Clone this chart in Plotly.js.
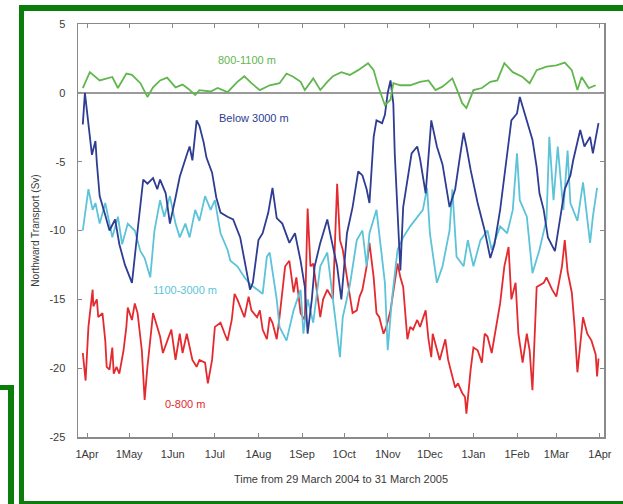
<!DOCTYPE html>
<html>
<head>
<meta charset="utf-8">
<script src="https://cdn.plot.ly/plotly-3.0.1.min.js"></script>
<style>
  html, body { margin: 0; padding: 0; background: #ffffff; }
  #wrap { position: relative; width: 623px; height: 504px; overflow: hidden; }
  #chart { position: absolute; left: 0; top: 0; width: 623px; height: 504px; }
  .frame { position: absolute; background: #0a7d0a; pointer-events: none; }
</style>
</head>
<body>
<div id="wrap">
  <div id="chart"></div>
  <div class="frame" style="left:19px; top:5px; width:610px; height:6px;"></div>
  <div class="frame" style="left:19px; top:5px; width:5px; height:499px;"></div>
  <div class="frame" style="left:19px; top:501px; width:610px; height:4px;"></div>
  <div class="frame" style="left:0px; top:385px; width:14px; height:5px;"></div>
  <div class="frame" style="left:8px; top:385px; width:6px; height:119px;"></div>
</div>
<script>
// Day offsets are counted from 29 March 2004
const startDate = '2004-03-29';

const monthTicks = ['2004-04-01','2004-05-01','2004-06-01','2004-07-01','2004-08-01','2004-09-01',
  '2004-10-01','2004-11-01','2004-12-01','2005-01-01','2005-02-01','2005-03-01','2005-04-01'];
const monthLabels = ['1Apr','1May','1Jun','1Jul','1Aug','1Sep','1Oct','1Nov','1Dec','1Jan','1Feb','1Mar','1Apr'];
const yTicks = [5, 0, -5, -10, -15, -20, -25];

// 800-1100 m
const greenDays = [0,5,12,21,25,31,35,41,46,50,55,60,66,71,75,80,83,91,96,103,110,115,120,126,133,140,145,150,155,158,164,169,174,178,184,190,196,203,207,210,215,219,221,226,233,240,246,251,256,263,267,270,273,278,284,290,295,300,306,313,318,323,330,337,343,348,352,355,360,365];
const greenVals = [0.35,1.5,0.9,1.15,0.35,1.4,1.3,0.7,-0.3,0.4,0.9,1.1,0.4,0.6,0.3,-0.15,0.2,0.1,0.35,0.05,0.8,1.2,0.7,0.2,0.55,0.7,1.4,1.15,0.8,0.2,1.05,0.2,0.8,1.2,1.5,1.3,1.65,2.15,1.65,0.55,-0.9,-0.5,0.7,0.55,0.55,0.8,0.9,0.2,0.45,1.05,0.05,-0.75,-1.1,0.2,0.35,0.8,0.9,2.15,1.5,1.15,0.7,1.65,1.9,2.0,2.2,1.65,0.2,1.15,0.35,0.55];

// Below 3000 m
const navyDays = [0,1.5,6.5,9,10,12,16,19,23,26,30,35,39,43,46,50,53,55,59,62,66,69,74,76,78,81,83,86,88,92,95,98,103,107,112,115,119,121,125,128,132,135,138,142,147,151,155,158,160,163,165,169,174,177,181,184,188,192,196,199,202,204,207,209,213,215,217,219,221,222,224,226,228,231,234,238,240,244,246,248,252,256,261,265,268,271,273,276,281,286,290,293,297,300,305,309,311,313,316,320,323,325,328,331,336,340,343,347,349,354,357,361,363,367];
const navyVals = [-2.3,0,-4.5,-3.5,-5.1,-7.5,-8.9,-10,-9.2,-11,-12.5,-13.8,-10,-6.3,-6.6,-6.2,-7,-6.3,-7.3,-9.5,-7.6,-6.1,-4.5,-3.9,-4.9,-2,-2.4,-3.6,-4.7,-5.8,-7.6,-8.7,-9,-9.2,-10.5,-12.2,-14.3,-13.8,-10.7,-10.2,-8.7,-6.9,-9.1,-9.5,-10.9,-10.2,-12.2,-14.1,-17.5,-15,-12.6,-10.9,-9.2,-10.7,-12.6,-15,-10.2,-8.3,-5.7,-6,-7,-8,-3.2,-2,-2.2,-1.6,0,0.9,-0.8,-4.4,-9.2,-12.9,-8.3,-6.3,-4.4,-3.9,-4.8,-7.3,-4.9,-2,-3.9,-5.2,-8.3,-7,-4.9,-2.9,-3.9,-5.6,-8,-10,-12,-11,-8.5,-6,-2,-1.5,-0.3,-1,-2,-3.4,-5.4,-7.3,-8.5,-10.5,-11.5,-9,-7,-6,-4.9,-2.7,-3.9,-3.2,-4.4,-2.2];

// 1100-3000 m
const cyanDays = [0,4,7,9,12,16,21,25,28,32,37,41,44,48,51,55,58,62,66,69,73,76,80,83,87,91,94,98,103,105,110,115,119,124,128,131,133,138,140,145,150,155,157,160,164,169,174,178,183,185,190,195,199,202,204,209,211,215,217,220,224,228,233,238,242,245,247,252,256,261,263,266,271,274,278,283,288,291,297,302,306,309,311,316,320,325,330,332,335,338,342,345,347,352,356,361,363,366];
const cyanVals = [-10,-7,-8.5,-8,-9.5,-8,-10.5,-9,-11,-9.5,-10,-11.5,-12,-13.4,-10,-7.8,-9,-7.5,-9.5,-10.5,-9.5,-10.5,-8.5,-9.3,-7.5,-8.5,-7.8,-10.2,-11.4,-12.2,-12.6,-13.4,-13.9,-14.3,-14.6,-11.9,-11.6,-15,-17,-18,-15.8,-14.3,-17.5,-15,-16.7,-12.6,-11.6,-15,-19.2,-16.3,-14,-10.7,-10,-12.6,-10.2,-8.5,-10.2,-13.8,-18.7,-15,-11.4,-10.5,-9.7,-9,-8.5,-6.9,-10.2,-13.8,-12.6,-10,-7,-11.9,-12.6,-10.7,-12.6,-10.7,-10,-11.4,-9.7,-10.2,-8.5,-4.4,-7.8,-9,-13.1,-11.4,-9.2,-3.2,-7.8,-3.9,-8.5,-4.2,-8,-9.3,-6.5,-10.9,-9,-6.9];

// 0-800 m
const redDays = [0,2,4,7,7.5,10,11,14,16,17,19,21,22,24,26,29,31,32,35,37,39,42,44,46,50,53,55,57,60,63,66,69,71,74,78,81,83,87,89,92,94,98,101,103,106,108,110,113,115,118,120,124,126,128,131,133,135,138,140,144,147,150,152,155,158,160,162,164,167,169,171,174,178,181,183,185,188,190,192,195,197,199,202,204,207,209,211,214,216,219,221,224,226,228,231,233,235,238,240,244,246,248,249,252,254,258,260,263,265,267,270,272,273,276,278,281,284,286,288,291,295,297,300,303,305,308,310,313,316,318,320,323,328,330,334,337,341,343,345,348,350,352,356,359,362,365,366,367];
const redVals = [-18.9,-20.9,-17,-14.3,-15.5,-15,-16.3,-16,-18,-19.9,-20.1,-18.5,-20.4,-19.9,-20.4,-18.7,-17,-15.6,-16.5,-15.3,-16,-18.7,-22.3,-19.9,-16,-17,-17.7,-18.9,-18,-17.2,-19.4,-17.5,-18.9,-17.5,-19.4,-19.9,-19.4,-19.6,-21.1,-19.4,-17,-16.7,-17.5,-18,-16.5,-14.6,-15,-15.8,-16.3,-14.8,-15.8,-16.3,-15.8,-17.2,-17.9,-16.3,-16.7,-17.9,-16.3,-12.6,-12.2,-14.5,-13.4,-16,-16.5,-8.4,-12.6,-12.4,-15,-16.3,-15,-14.3,-15,-6.6,-10.7,-11.4,-13.4,-14.8,-16,-15.8,-14.8,-14.3,-12.6,-10.9,-13.4,-16,-16.3,-17.5,-17,-15.8,-14.3,-12.4,-13.4,-14.1,-17.9,-17,-17.2,-16.5,-17,-15.8,-17.9,-19.2,-17.5,-18.7,-19.4,-17.9,-19.4,-20.6,-21.4,-21.1,-21.8,-22.1,-23.3,-20.1,-18.5,-18.7,-19.6,-17.5,-17.7,-18.9,-16.3,-15.3,-12.6,-11.2,-15,-13.8,-17.5,-19.6,-17.5,-18.7,-21.6,-14.1,-13.8,-13.4,-14.3,-14.8,-12.6,-10.7,-13,-14.5,-17,-20.3,-16.3,-17.5,-18,-19,-20.6,-19.3];

function toDates(days) {
  const base = new Date(startDate + 'T00:00:00Z').getTime();
  return days.map(d => {
    const t = new Date(base + d * 86400000);
    return t.toISOString().slice(0, 19).replace('T', ' ');
  });
}

const traces = [
  { x: toDates(redDays), y: redVals, name: '0-800 m', line: { color: '#e52a2f', width: 1.8 } },
  { x: toDates(cyanDays), y: cyanVals, name: '1100-3000 m', line: { color: '#5cc3d9', width: 1.8 } },
  { x: toDates(navyDays), y: navyVals, name: 'Below 3000 m', line: { color: '#2e3c92', width: 1.8 } },
  { x: toDates(greenDays), y: greenVals, name: '800-1100 m', line: { color: '#62b64e', width: 1.8 } }
].map(t => Object.assign({ type: 'scatter', mode: 'lines', hoverinfo: 'skip' }, t));

const fontFam = '"Liberation Sans", Arial, sans-serif';
const layout = {
  width: 623, height: 504,
  margin: { l: 78, r: 19, t: 24, b: 67 },
  paper_bgcolor: '#ffffff', plot_bgcolor: '#ffffff',
  showlegend: false,
  font: { family: fontFam, size: 11, color: '#3a3a3a' },
  xaxis: {
    type: 'date',
    range: ['2004-03-25 14:00', '2005-04-03 22:00'],
    tickmode: 'array', tickvals: monthTicks, ticktext: monthLabels,
    ticks: 'inside', ticklen: 4, tickwidth: 1, tickcolor: '#888',
    showline: true, linecolor: '#8a8a8a', linewidth: 1.5, mirror: 'ticks',
    showgrid: false, zeroline: false,
    ticklabelstandoff: 6,
    tickfont: { size: 11, color: '#3a3a3a' },
    title: { text: 'Time from 29 March 2004 to 31 March 2005', font: { size: 11, color: '#3a3a3a' }, standoff: 16 }
  },
  yaxis: {
    range: [-25, 5],
    tickmode: 'array', tickvals: yTicks, ticktext: yTicks.map(String),
    ticks: 'inside', ticklen: 4, tickwidth: 1, tickcolor: '#888',
    showline: true, linecolor: '#8a8a8a', linewidth: 1.5, mirror: 'ticks',
    showgrid: false,
    zeroline: true, zerolinecolor: '#9a9a9a', zerolinewidth: 2,
    ticklabelstandoff: 9,
    tickfont: { size: 11, color: '#3a3a3a' },
    title: { text: 'Northward Transport (Sv)', font: { size: 10, color: '#3a3a3a' }, standoff: 8 }
  },
  annotations: [
    { x: '2004-07-24', y: 2.4, text: '800-1100 m', showarrow: false, font: { size: 11, color: '#62b64e' } },
    { x: '2004-07-29', y: -1.85, text: 'Below 3000 m', showarrow: false, font: { size: 11, color: '#2e3c92' } },
    { x: '2004-06-10', y: -14.3, text: '1100-3000 m', showarrow: false, font: { size: 11, color: '#5cc3d9' } },
    { x: '2004-06-10', y: -22.6, text: '0-800 m', showarrow: false, font: { size: 11, color: '#e52a2f' } }
  ]
};

Plotly.newPlot('chart', traces, layout, { staticPlot: true, displayModeBar: false });
</script>
</body>
</html>
